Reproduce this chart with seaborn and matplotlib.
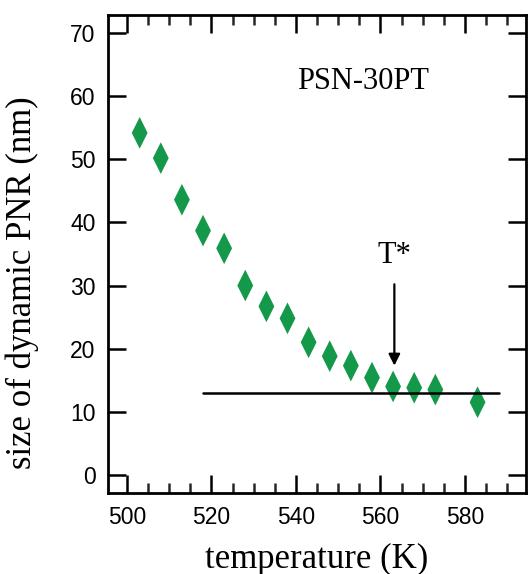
import matplotlib
matplotlib.use("Agg")
import matplotlib.pyplot as plt
import seaborn as sns
import pandas as pd
from matplotlib.ticker import MultipleLocator

temperature = [503, 508, 513, 518, 523, 528, 533, 538, 543, 548, 553, 558, 563, 568, 573, 583]
pnr_size = [54.2, 50.2, 43.6, 38.7, 35.9, 30.0, 26.7, 24.8, 21.0, 18.8, 17.3, 15.4, 14.0, 13.8, 13.5, 11.5]
baseline_x = [518, 588]
baseline_y = [13, 13]
tstar_x = 563.3
sample_label = "PSN-30PT"

sns.set_theme(style="ticks")
plt.rcParams['font.family'] = ['Liberation Sans', 'DejaVu Sans']
plt.rcParams['text.color'] = 'black'
plt.rcParams['axes.labelcolor'] = 'black'

fig = plt.figure(figsize=(5.32, 5.74), dpi=100)
ax = fig.add_axes([0.203, 0.141, 0.786, 0.833])

df = pd.DataFrame({"T": temperature, "size": pnr_size})
diamond = [(0, 1), (0.5, 0), (0, -1), (-0.5, 0), (0, 1)]
sns.scatterplot(data=df, x="T", y="size", marker=diamond, s=520, color="#14994A",
                edgecolor="none", linewidth=0, ax=ax, zorder=2)
sns.lineplot(x=baseline_x, y=baseline_y, color="black", linewidth=1.8, ax=ax, zorder=3)

ax.annotate("", xy=(tstar_x, 17.3), xytext=(tstar_x, 30.2),
            arrowprops=dict(arrowstyle="-|>", color="black", lw=1.6, mutation_scale=17,
                            shrinkA=0, shrinkB=0), zorder=4)
ax.text(tstar_x, 34.8, "T*", ha="center", va="center", fontsize=22,
        family=["Liberation Serif"], color="black")
ax.text(556, 62.3, sample_label, ha="center", va="center", fontsize=22,
        family=["Liberation Serif"], color="black")

ax.set_xlim(495.5, 594.5)
ax.set_ylim(-2.9, 72.9)
ax.xaxis.set_major_locator(MultipleLocator(20))
ax.xaxis.set_minor_locator(MultipleLocator(5))
ax.yaxis.set_major_locator(MultipleLocator(10))

ax.tick_params(axis="both", which="major", direction="in", length=13, width=1.8,
               top=True, right=True, labelsize=16.5, colors="black", pad=9)
ax.tick_params(axis="x", which="minor", direction="in", length=7, width=1.8,
               top=True, bottom=True)
for sp in ax.spines.values():
    sp.set_linewidth(2.0)
    sp.set_color("black")

ax.set_xlabel("temperature (K)", fontsize=25, family=["Liberation Serif"], labelpad=10)
ax.set_ylabel("size of dynamic PNR (nm)", fontsize=25, family=["Liberation Serif"])
ax.yaxis.set_label_coords(-0.165, 0.44)

fig.savefig("out.png", dpi=100)
